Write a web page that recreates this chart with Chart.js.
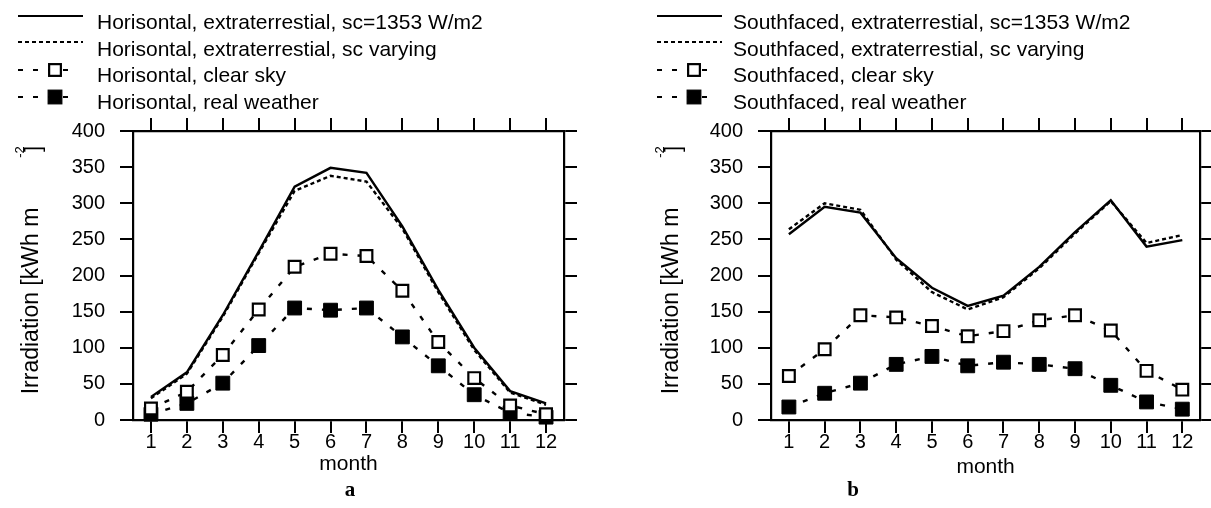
<!DOCTYPE html>
<html>
<head>
<meta charset="utf-8">
<script src="https://cdn.jsdelivr.net/npm/chart.js@4.4.1/dist/chart.umd.min.js"></script>
<style>
  html, body { margin: 0; padding: 0; background: #fff; }
  #wrap { position: relative; width: 1211px; height: 508px; overflow: hidden; }
  canvas { position: absolute; top: 0; }
</style>
</head>
<body>
<div id="wrap">
  <canvas id="chartA" width="600" height="508" style="left:0px;width:600px;height:508px"></canvas>
  <canvas id="chartB" width="611" height="508" style="left:600px;width:611px;height:508px"></canvas>
</div>
<script>
// months on x, irradiation ticks on y
var months = ["1", "2", "3", "4", "5", "6", "7", "8", "9", "10", "11", "12"];
var yTicks = [0, 50, 100, 150, 200, 250, 300, 350, 400];

// a: horizontal surface
var horLabels = ["Horisontal, extraterrestial, sc=1353 W/m2", "Horisontal, extraterrestial, sc varying",
                 "Horisontal, clear sky", "Horisontal, real weather"];
var horExtraFixed = [32, 66, 145, 233, 323, 349, 342, 268, 180, 100, 40, 23];
var horExtraVary  = [30, 64, 143, 231, 317, 338, 330, 265, 177, 97, 38, 21];
var horClearSky   = [16, 39, 90, 153, 212, 230, 227, 179, 108, 58, 20, 8];
var horRealWeather = [8, 23, 51, 103, 155, 152, 155, 115, 75, 35, 10, 4];

// b: south faced surface
var southLabels = ["Southfaced, extraterrestial, sc=1353 W/m2", "Southfaced, extraterrestial, sc varying",
                   "Southfaced, clear sky", "Southfaced, real weather"];
var southExtraFixed = [257, 295, 287, 224, 183, 158, 172, 212, 260, 304, 240, 249];
var southExtraVary  = [264, 300, 291, 222, 177, 153, 170, 210, 258, 303, 245, 256];
var southClearSky   = [61, 98, 145, 142, 130, 116, 123, 138, 145, 124, 68, 42];
var southRealWeather = [18, 37, 51, 77, 88, 75, 80, 77, 71, 48, 25, 15];

var FONT = "'Liberation Sans', Arial, sans-serif";

function makeDatasets(labels, d1, d2, d3, d4) {
  return [
    { label: labels[0], data: d1, borderColor: "#000", borderWidth: 2.4, pointRadius: 0, clip: false },
    { label: labels[1], data: d2, borderColor: "#000", borderWidth: 2.4, borderDash: [4, 3], pointRadius: 0, clip: false },
    { label: labels[2], data: d3, borderColor: "#000", borderWidth: 2.4, borderDash: [5, 10],
      pointStyle: "rect", pointRadius: 8.3, pointBorderWidth: 2.2, pointBackgroundColor: "#fff",
      pointBorderColor: "#000", clip: false },
    { label: labels[3], data: d4, borderColor: "#000", borderWidth: 2.4, borderDash: [5, 10],
      pointStyle: "rect", pointRadius: 9.8, pointBorderWidth: 1, pointBackgroundColor: "#000",
      pointBorderColor: "#000", clip: false }
  ];
}

// legend rows, y title and panel letter drawn on top of the chart
var decor = {
  id: "decor",
  afterDraw: function (chart) {
    var o = chart.options.plugins.decor;
    var ctx = chart.ctx;
    var rowLine = [16, 42, 70, 97];
    var rowText = [29, 56, 82, 109];
    ctx.save();
    chart.data.datasets.forEach(function (ds, i) {
      var y = rowLine[i];
      ctx.strokeStyle = "#000";
      ctx.lineWidth = 2.2;
      ctx.setLineDash(ds.borderDash || []);
      ctx.beginPath();
      ctx.moveTo(o.x0, y);
      ctx.lineTo(i < 2 ? o.x1 : o.x1 - 8, y);
      ctx.stroke();
      ctx.setLineDash([]);
      if (ds.pointRadius) {
        var h = ds.pointRadius * Math.SQRT1_2;
        ctx.fillStyle = ds.pointBackgroundColor;
        ctx.fillRect(o.mx - h, y - h, 2 * h, 2 * h);
        ctx.lineWidth = ds.pointBorderWidth;
        ctx.strokeRect(o.mx - h, y - h, 2 * h, 2 * h);
      }
      ctx.fillStyle = "#000";
      ctx.font = "21px " + FONT;
      ctx.textAlign = "left";
      ctx.textBaseline = "alphabetic";
      ctx.fillText(ds.label, o.tx, rowText[i]);
    });

    // y axis title
    ctx.save();
    ctx.translate(o.yt, 301);
    ctx.rotate(-Math.PI / 2);
    ctx.font = "23px " + FONT;
    ctx.textAlign = "center";
    ctx.textBaseline = "middle";
    ctx.fillText("Irradiation [kWh m", 0, 0);
    ctx.restore();
    ctx.save();
    ctx.translate(o.yt - 12, 152);
    ctx.rotate(-Math.PI / 2);
    ctx.font = "13px " + FONT;
    ctx.textAlign = "center";
    ctx.textBaseline = "middle";
    ctx.fillText("-2", 0, 0);
    ctx.restore();
    ctx.save();
    ctx.translate(o.yt + 2, 149);
    ctx.rotate(-Math.PI / 2);
    ctx.font = "22px " + FONT;
    ctx.textAlign = "center";
    ctx.textBaseline = "middle";
    ctx.fillText("]", 0, 0);
    ctx.restore();

    // panel letter
    ctx.font = "bold 21px 'Liberation Serif', 'Times New Roman', serif";
    ctx.textAlign = "center";
    ctx.textBaseline = "middle";
    ctx.fillText(o.letter, o.lx, 491);
    ctx.restore();
  }
};

function makeChart(id, datasets, box, deco) {
  var gridOpts = { drawOnChartArea: false, drawTicks: true, tickLength: 13, lineWidth: 2, color: "#000" };
  var borderOpts = { color: "#000", width: 2.2 };
  var setTicks = function (s) { s.ticks = yTicks.map(function (v) { return { value: v }; }); };
  return new Chart(document.getElementById(id), {
    type: "line",
    data: { labels: months, datasets: datasets },
    options: {
      responsive: false,
      animation: false,
      devicePixelRatio: 1,
      events: [],
      layout: { padding: 0 },
      elements: { line: { tension: 0 } },
      plugins: { legend: { display: false }, tooltip: { enabled: false }, decor: deco },
      scales: {
        x: {
          type: "category", position: "bottom", offset: true,
          grid: Object.assign({ offset: false }, gridOpts), border: borderOpts,
          ticks: { color: "#000", padding: -3, maxRotation: 0, autoSkip: false, font: { family: FONT, size: 20 } },
          title: { display: true, text: "month", color: "#000", font: { family: FONT, size: 21 },
                   padding: { top: 0, bottom: box.monthPad } },
          afterFit: function (s) { s.height = 88; s.paddingLeft = 0; s.paddingRight = 0; }
        },
        x2: {
          type: "category", position: "top", offset: true,
          grid: Object.assign({ offset: false }, gridOpts), border: borderOpts,
          ticks: { display: false },
          afterFit: function (s) { s.height = 131; s.paddingLeft = 0; s.paddingRight = 0; }
        },
        y: {
          position: "left", min: 0, max: 400,
          grid: gridOpts, border: borderOpts,
          ticks: { color: "#000", padding: 15, font: { family: FONT, size: 20 } },
          afterBuildTicks: setTicks,
          afterFit: function (s) { s.width = box.left; s.paddingTop = 0; s.paddingBottom = 0; }
        },
        y2: {
          position: "right", min: 0, max: 400,
          grid: gridOpts, border: borderOpts,
          ticks: { display: false },
          afterBuildTicks: setTicks,
          afterFit: function (s) { s.width = box.right; s.paddingTop = 0; s.paddingBottom = 0; }
        }
      }
    },
    plugins: [decor]
  });
}

makeChart("chartA",
  makeDatasets(horLabels, horExtraFixed, horExtraVary, horClearSky, horRealWeather),
  { left: 133, right: 36, monthPad: 31 },
  { x0: 18, x1: 83, mx: 55, tx: 97, yt: 32, letter: "a", lx: 350 });

makeChart("chartB",
  makeDatasets(southLabels, southExtraFixed, southExtraVary, southClearSky, southRealWeather),
  { left: 171, right: 10, monthPad: 28 },
  { x0: 57, x1: 122, mx: 94, tx: 133, yt: 72, letter: "b", lx: 253 });
</script>
</body>
</html>
